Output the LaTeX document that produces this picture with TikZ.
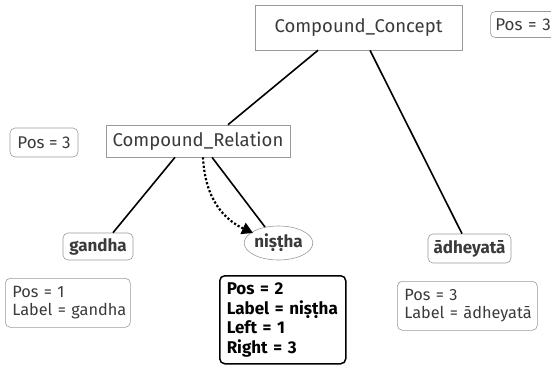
\documentclass[tikz,border=0pt]{standalone}
\usepackage{fontspec}
\setmainfont{Fira Sans}
\usetikzlibrary{shapes.geometric,arrows.meta}
\definecolor{txt}{HTML}{3A3A3A}
\definecolor{edge}{HTML}{9A9A9A}
\newcommand{\ind}{\hspace*{7pt}}
\tikzset{
  base/.style={font=\fontsize{17}{17}\selectfont, text=txt, inner sep=0pt},
  big/.style={font=\fontsize{18.5}{20}\selectfont},
  sqbox/.style={base, big, draw=edge, line width=0.6pt, minimum height=#1},
  rbox/.style={base, draw=edge, line width=0.6pt, rounded corners=5pt},
  boldtxt/.style={font=\fontsize{17}{17}\selectfont\bfseries},
  infobox/.style={rbox, align=left, text width=#1, inner xsep=0pt, inner ysep=6pt, font=\fontsize{16.3}{17.5}\selectfont},
  keybox/.style={base, draw=black, line width=1.5pt, rounded corners=5pt, align=left, font=\fontsize{17}{19.5}\selectfont\bfseries, text=black, text width=112pt, inner xsep=7pt, inner ysep=6pt},
  conn/.style={line width=1.6pt, black},
}
\begin{document}
\begin{tikzpicture}[x=1pt,y=-1pt]
\useasboundingbox (0,0) rectangle (551,365);
\node[sqbox=45pt, minimum width=207pt] (cc) at (358.5,27.5) {Compound\_Concept};
\node[rbox, minimum height=26pt, anchor=west, text width=70pt, inner xsep=5pt, align=left] (p3a) at (490,24.5) {Pos = 3};
\node[rbox, minimum width=68pt, minimum height=29pt] (p3b) at (44,142.5) {Pos = 3};
\node[sqbox=32pt, minimum width=184pt] (cr) at (198,141) {Compound\_Relation};
\node[rbox, boldtxt, minimum width=70pt, minimum height=27pt] (g) at (98,246.5) {gandha};
\node[base, boldtxt, ellipse, draw=edge, line width=0.6pt, minimum width=67pt, minimum height=34pt] (n) at (278.5,243) {niṣṭha};
\node[rbox, boldtxt, minimum width=83pt, minimum height=29pt] (a) at (469.5,248.5) {ādheyatā};
\node[infobox=125pt, minimum height=49pt, anchor=north west] (i1) at (5,278) {\ind Pos = 1\\\ind Label = gandha};
\node[keybox, minimum height=88pt, anchor=north west] (i2) at (219,275) {Pos = 2\\Label = niṣṭha\\Left = 1\\Right = 3};
\node[infobox=140pt, minimum height=49pt, anchor=north west] (i3) at (397,281) {\ind Pos = 3\\\ind Label = ādheyatā};
\draw[conn] (cc.south -| 318,0) -- (cr.north -| 228,0);
\draw[conn] (cc.south -| 370,0) -- (a.north -| 462,0);
\draw[conn] (cr.south -| 175,0) -- (g.north -| 113,0);
\draw[conn] (cr.south -| 212,0) -- (265,227);
\draw[line width=2.2pt, dotted, -{Triangle[length=11pt,width=12pt]}] (cr.south -| 203,0) .. controls (205,200) and (225,220) .. (253,233);
\end{tikzpicture}
\end{document}
